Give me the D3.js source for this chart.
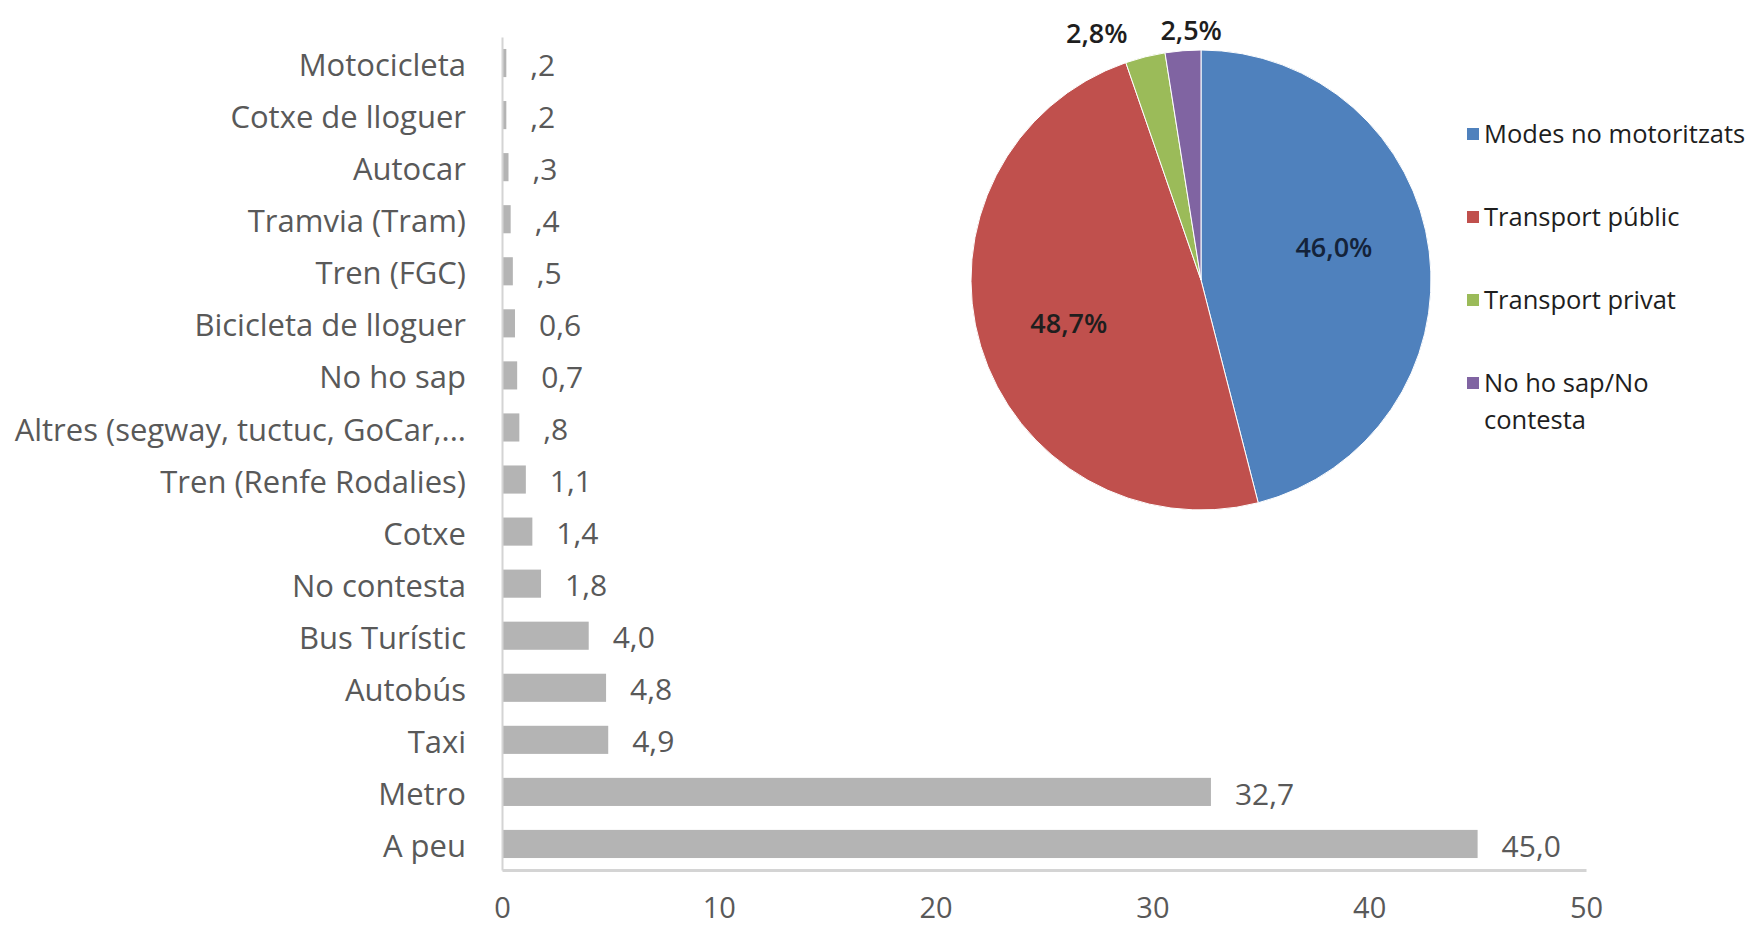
<!DOCTYPE html>
<html>
<head>
<meta charset="utf-8">
<script src="https://cdn.jsdelivr.net/npm/d3@7/dist/d3.min.js"></script>
<style>
    body { margin: 0; background: #fff; }
    svg text { font-family: "Open Sans", "Noto Sans", sans-serif; }
</style>
</head>
<body>
<script>
'use strict';

// bar chart data, top to bottom
var categories = ['Motocicleta', 'Cotxe de lloguer', 'Autocar', 'Tramvia (Tram)', 'Tren (FGC)',
    'Bicicleta de lloguer', 'No ho sap', 'Altres (segway, tuctuc, GoCar,...', 'Tren (Renfe Rodalies)',
    'Cotxe', 'No contesta', 'Bus Turístic', 'Autobús', 'Taxi', 'Metro', 'A peu'];
var values = [0.2, 0.2, 0.3, 0.4, 0.5, 0.6, 0.7, 0.8, 1.1, 1.4, 1.8, 4.0, 4.8, 4.9, 32.7, 45.0];
var valueLabels = [',2', ',2', ',3', ',4', ',5', '0,6', '0,7', ',8', '1,1', '1,4', '1,8', '4,0', '4,8', '4,9', '32,7', '45,0'];
var xTicks = [0, 10, 20, 30, 40, 50];

// pie data
var pieGroups = ['Modes no motoritzats', 'Transport públic', 'Transport privat', 'No ho sap/No contesta'];
var legendLines = [['Modes no motoritzats'], ['Transport públic'], ['Transport privat'], ['No ho sap/No', 'contesta']];
var pieValues = [46.0, 48.7, 2.8, 2.5];
var pieLabels = ['46,0%', '48,7%', '2,8%', '2,5%'];
var pieColors = ['#4F81BD', '#C0504D', '#9BBB59', '#8064A2'];

var width = 1753;
var height = 928;

var svg = d3.select('body').append('svg')
    .attr('width', width)
    .attr('height', height);

// ---- bar chart ----
var x = d3.scaleLinear()
    .domain([0, 50])
    .range([502, 1586]);

var y = d3.scaleBand()
    .domain(categories)
    .range([37, 870])
    .paddingInner(0.46)
    .paddingOuter(0.23);

var bars = svg.append('g');

bars.selectAll('rect')
    .data(values)
    .enter().append('rect')
    .attr('x', x(0))
    .attr('y', function(d, i) { return y(categories[i]); })
    .attr('width', function(d) { return x(d) - x(0); })
    .attr('height', y.bandwidth())
    .attr('fill', '#B4B4B4');

bars.selectAll('.val')
    .data(values)
    .enter().append('text')
    .attr('class', 'val')
    .attr('x', function(d) { return x(d) + 24; })
    .attr('y', function(d, i) { return y(categories[i]) + y.bandwidth() / 2; })
    .attr('dy', '0.42em')
    .attr('font-size', 30)
    .attr('fill', '#595959')
    .text(function(d, i) { return valueLabels[i]; });

// category labels
svg.append('g')
    .attr('transform', 'translate(' + x(0) + ',0)')
    .call(d3.axisLeft(y).tickSize(0).tickPadding(36))
    .call(function(g) {
        g.select('.domain').attr('stroke', '#D4D4D4').attr('stroke-width', 2);
        g.selectAll('text')
            .attr('dy', '0.42em')
            .attr('font-size', 31)
            .attr('fill', '#595959');
    });

// value axis
svg.append('g')
    .attr('transform', 'translate(0,870)')
    .call(d3.axisBottom(x).tickValues(xTicks).tickSize(0).tickPadding(27))
    .call(function(g) {
        g.select('.domain').attr('stroke', '#D4D4D4').attr('stroke-width', 3);
        g.selectAll('text')
            .attr('font-size', 29)
            .attr('fill', '#595959');
    });

// ---- pie chart ----
var cx = 1201, cy = 280, r = 230;

var pie = d3.pie().sort(null)(pieValues);
var arc = d3.arc().innerRadius(0).outerRadius(r);
var innerLabelArc = d3.arc().innerRadius(r * 0.6).outerRadius(r * 0.6);
var outerLabelArc = d3.arc().innerRadius(r * 1.1).outerRadius(r * 1.1);

var pg = svg.append('g')
    .attr('transform', 'translate(' + cx + ',' + cy + ')');

pg.selectAll('path')
    .data(pie)
    .enter().append('path')
    .attr('d', arc)
    .attr('fill', function(d, i) { return pieColors[i]; })
    .attr('stroke', '#fff')
    .attr('stroke-width', 1);

// label nudges, as Excel placed them
var labelDx = [-4, 0, -12, 10];
var labelDy = ['-0.2em', '0.5em', '0.3em', '0.45em'];

pg.selectAll('text')
    .data(pie)
    .enter().append('text')
    .attr('transform', function(d) {
        var small = d.value < 5;
        var c = small ? outerLabelArc.centroid(d) : innerLabelArc.centroid(d);
        return 'translate(' + c[0] + ',' + c[1] + ')';
    })
    .attr('text-anchor', function(d, i) { return i === 2 ? 'end' : 'middle'; })
    .attr('dx', function(d, i) { return labelDx[i]; })
    .attr('dy', function(d, i) { return labelDy[i]; })
    .attr('font-size', 27)
    .attr('font-weight', 600)
    .attr('fill', function(d, i) { return i === 0 ? '#14233a' : '#1e1e1e'; })
    .text(function(d, i) { return pieLabels[i]; });

// legend
var legend = svg.append('g')
    .attr('transform', 'translate(1467,134)');

var item = legend.selectAll('g')
    .data(pieGroups)
    .enter().append('g')
    .attr('transform', function(d, i) { return 'translate(0,' + (i * 83) + ')'; });

item.append('rect')
    .attr('x', 0)
    .attr('y', -6)
    .attr('width', 12)
    .attr('height', 12)
    .attr('fill', function(d, i) { return pieColors[i]; });

item.append('text')
    .attr('x', 17)
    .attr('y', 0)
    .attr('font-size', 25.5)
    .attr('font-weight', 500)
    .attr('fill', '#1e1e1e')
    .selectAll('tspan')
    .data(function(d, i) { return legendLines[i]; })
    .enter().append('tspan')
    .attr('x', 17)
    .attr('dy', function(d, j) { return j === 0 ? '0.35em' : '1.45em'; })
    .text(function(d) { return d; });
</script>
</body>
</html>
